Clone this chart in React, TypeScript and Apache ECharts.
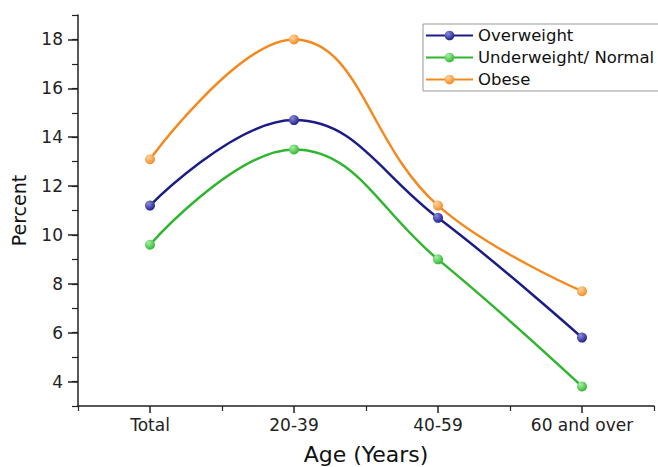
import React, { useEffect, useRef } from "react";
import * as echarts from "echarts";

const categories = ["Total", "20-39", "40-59", "60 and over"];
const seriesNames = ["Overweight", "Underweight/ Normal", "Obese"];
const overweight = [11.2, 14.7, 10.7, 5.8];
const underweightNormal = [9.6, 13.5, 9.0, 3.8];
const obese = [13.1, 18.0, 11.2, 7.7];
const yMajorTicks = [4, 6, 8, 10, 12, 14, 16, 18];

const FONT = "DejaVu Sans";

const ball = (light: string, base: string) =>
  new echarts.graphic.RadialGradient(0.35, 0.3, 0.75, [
    { offset: 0, color: light },
    { offset: 1, color: base },
  ]);

export default function App() {
  const ref = useRef<HTMLDivElement>(null);
  useEffect(() => {
    if (!ref.current) return;
    const chart = echarts.init(ref.current, undefined, { renderer: "svg" });
    const mk = (name: string, data: number[], line: string, light: string) => ({
      name,
      type: "line",
      data,
      smooth: 0.42,
      xAxisIndex: 0,
      yAxisIndex: 0,
      symbol: "circle",
      symbolSize: 10,
      showSymbol: true,
      lineStyle: { color: line, width: 2.5 },
      itemStyle: { color: ball(light, line), borderWidth: 0 },
      emphasis: { disabled: true },
    });
    chart.setOption({
      animation: false,
      backgroundColor: "#ffffff",
      grid: {
        left: 78,
        right: 4,
        top: 15,
        bottom: 61,
        containLabel: false,
        outerBoundsMode: "none",
      },
      legend: {
        orient: "vertical",
        left: 423,
        top: 24,
        padding: [3, 6, 3, 2],
        itemGap: 5,
        itemWidth: 47,
        itemHeight: 12,
        borderColor: "#999",
        borderWidth: 1,
        backgroundColor: "#fff",
        data: seriesNames,
        textStyle: { fontFamily: FONT, fontSize: 16.5, color: "#111", lineHeight: 16 },
      },
      xAxis: [
        {
          type: "category",
          data: categories,
          boundaryGap: true,
          position: "bottom",
          name: "Age (Years)",
          nameLocation: "middle",
          nameGap: 37,
          nameTextStyle: { fontFamily: FONT, fontSize: 22, color: "#111" },
          axisLine: { show: true, onZero: false, lineStyle: { color: "#222", width: 1.5 } },
          axisTick: { show: true, alignWithLabel: true, length: 7, lineStyle: { color: "#222", width: 1.5 } },
          axisLabel: { fontFamily: FONT, fontSize: 17, color: "#222", margin: 10 },
          splitLine: { show: false },
        },
        {
          type: "category",
          data: categories,
          boundaryGap: true,
          position: "bottom",
          axisLine: { show: false, onZero: false },
          axisTick: { show: true, alignWithLabel: false, length: 5, lineStyle: { color: "#222", width: 1.2 } },
          axisLabel: { show: false },
          splitLine: { show: false },
        },
      ],
      yAxis: [
        {
          type: "value",
          min: 3,
          max: 19,
          interval: 1,
          position: "left",
          name: "Percent",
          nameLocation: "middle",
          nameGap: 50,
          nameTextStyle: { fontFamily: FONT, fontSize: 19, color: "#111" },
          axisLine: { show: true, lineStyle: { color: "#222", width: 1.5 } },
          axisTick: { show: true, length: 6, lineStyle: { color: "#222", width: 1.2 } },
          axisLabel: {
            fontFamily: FONT,
            fontSize: 17,
            color: "#222",
            margin: 15,
            customValues: yMajorTicks,
          },
          splitLine: { show: false },
        },
        {
          type: "value",
          min: 3,
          max: 19,
          interval: 1,
          position: "left",
          axisLine: { show: false },
          axisTick: { show: true, length: 10, customValues: yMajorTicks, lineStyle: { color: "#222", width: 1.5 } },
          axisLabel: { show: false },
          splitLine: { show: false },
        },
      ],
      series: [
        mk(seriesNames[0], overweight, "#1c1c86", "#8a8ae0"),
        mk(seriesNames[1], underweightNormal, "#2fb52f", "#a8eea8"),
        mk(seriesNames[2], obese, "#f28a20", "#ffd2a0"),
      ],
    });
    return () => chart.dispose();
  }, []);
  return (
    <div
      ref={ref}
      style={{ position: "fixed", left: 0, top: 0, width: 658, height: 467 }}
    />
  );
}
